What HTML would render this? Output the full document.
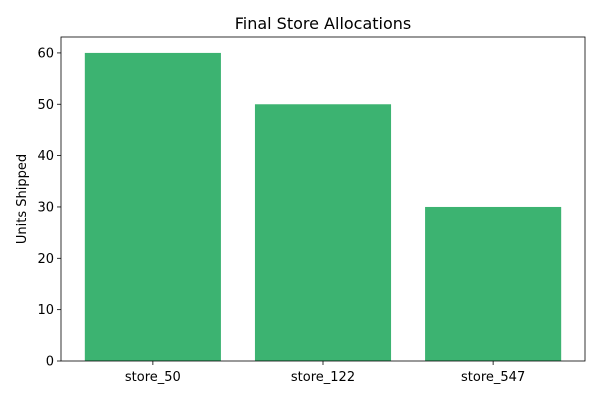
<!DOCTYPE html>
<html><head><meta charset="utf-8"><style>
body{margin:0;background:#fff;font-family:"Liberation Sans","DejaVu Sans",sans-serif;}
svg text{font-family:"DejaVu Sans","Liberation Sans",sans-serif;}
</style></head><body>
<svg width="600" height="400" viewBox="0 0 600 400">
<text x="323" y="29" text-anchor="middle" font-size="16">Final Store Allocations</text>
<g id="plot"></g>
<text transform="translate(26,199) rotate(-90)" text-anchor="middle" font-size="13">Units Shipped</text>
</svg>
<script>
const categories = ["store_50","store_122","store_547"];
const values = [60,50,30];
const yTicks = [0,10,20,30,40,50,60];
const L=61,R=585,T=37,B=361;
const xmin=-0.54,xmax=2.54,ymin=0,ymax=63.1;
const xs=v=>L+(v-xmin)/(xmax-xmin)*(R-L);
const ys=v=>B-(v-ymin)/(ymax-ymin)*(B-T);
const g=document.getElementById('plot');
const NS='http://www.w3.org/2000/svg';
function mk(t,a){const e=document.createElementNS(NS,t);for(const k in a)e.setAttribute(k,a[k]);g.appendChild(e);return e;}
categories.forEach((c,i)=>{
  const r=mk('rect',{x:xs(i-0.4),y:ys(values[i]),width:xs(i+0.4)-xs(i-0.4),height:ys(0)-ys(values[i]),fill:'#3cb371'});
  
  
  const tk=mk('line',{x1:xs(i),x2:xs(i),y1:B,y2:B+4,stroke:'#000','stroke-width':0.8});
  
  
  const t=mk('text',{x:xs(i),y:B+20,'text-anchor':'middle','font-size':13});
  t.textContent=c;
  
  
});
yTicks.forEach(v=>{
  const tk=mk('line',{x1:L-4,x2:L,y1:ys(v),y2:ys(v),stroke:'#000','stroke-width':0.8});
  
  
  const t=mk('text',{x:L-7,y:ys(v)+4.5,'text-anchor':'end','font-size':13});
  t.textContent=v;
  
  
});
const f=mk('rect',{x:L,y:T,width:R-L,height:B-T,fill:'none',stroke:'#000','stroke-width':0.8});


</script>
</body></html>
